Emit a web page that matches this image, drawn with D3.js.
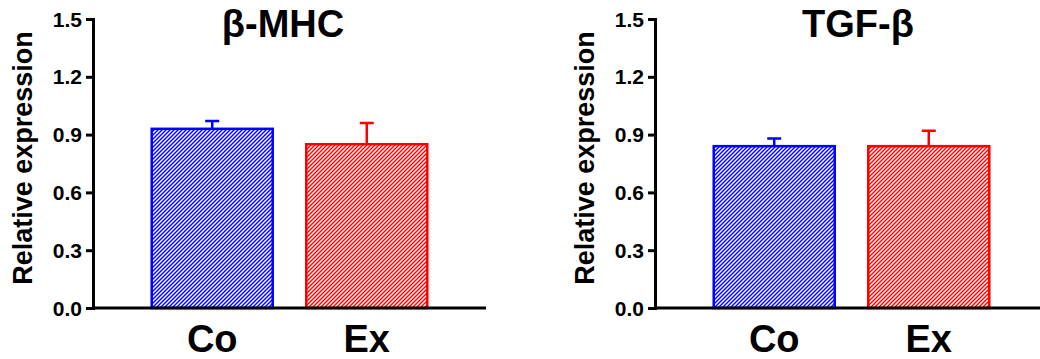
<!DOCTYPE html>
<html>
<head>
<meta charset="utf-8">
<script src="https://cdn.jsdelivr.net/npm/d3@7"></script>
<style>
body { margin: 0; background: white; }
text { font-family: "Liberation Sans", Arial, sans-serif; font-weight: bold; fill: black; }
</style>
</head>
<body>
<svg></svg>
<script>
var groups = ["Co", "Ex"];
var colors = ["#0000ff", "#ff0000"];
var yTicks = [0, 0.3, 0.6, 0.9, 1.2, 1.5];

var mhcTitle = "β-MHC";
var mhcMeans = [0.93, 0.85];
var mhcErrors = [0.04, 0.11];

var tgfTitle = "TGF-β";
var tgfMeans = [0.84, 0.84];
var tgfErrors = [0.04, 0.08];

var size = { width: 1040, height: 359 };

var svg = d3.select("svg")
            .attr("width", size.width)
            .attr("height", size.height);

// hatch patterns, one per colour
var defs = svg.append("defs");
colors.forEach(function(c, i) {
  var p = defs.append("pattern")
     .attr("id", "hatch" + i)
     .attr("patternUnits", "userSpaceOnUse")
     .attr("width", 4)
     .attr("height", 4);
  p.append("rect").attr("width", 4).attr("height", 4).attr("fill", "white");
  p.append("path")
   .attr("d", "M-1,1 l2,-2 M0,4 l4,-4 M3,5 l2,-2")
   .attr("stroke", c)
   .attr("stroke-width", 1.4);
});

var yScale = d3.scaleLinear()
               .domain([0, 1.5])
               .range([308, 19]);

var xScale = d3.scaleBand()
               .domain(groups)
               .range([93, 486])
               .paddingInner(0.217)
               .paddingOuter(0.38);

var fmt = d3.format(".1f");

var drawPanel = function(offset, title, titleX, means, errors)
{
  var g = svg.append("g")
             .attr("transform", "translate(" + offset + ",0)");

  var data = groups.map(function(d, i) {
    return { name: d, mean: means[i], err: errors[i], i: i };
  });

  // error bars (upper only)
  g.selectAll(".err")
   .data(data)
   .enter()
   .append("path")
   .attr("class", "err")
   .attr("d", function(d) {
     var cx = xScale(d.name) + xScale.bandwidth() / 2;
     return "M" + cx + "," + yScale(d.mean) + "V" + yScale(d.mean + d.err) +
            "M" + (cx - 7) + "," + yScale(d.mean + d.err) + "H" + (cx + 7);
   })
   .attr("stroke", function(d) { return colors[d.i]; })
   .attr("stroke-width", 2.5)
   .attr("fill", "none");

  g.selectAll(".bar")
   .data(data)
   .enter()
   .append("rect")
   .attr("class", "bar")
   .attr("x", function(d) { return xScale(d.name); })
   .attr("width", xScale.bandwidth())
   .attr("y", function(d) { return yScale(d.mean); })
   .attr("height", function(d) { return yScale(0) - yScale(d.mean); })
   .attr("fill", function(d) { return "url(#hatch" + d.i + ")"; })
   .attr("stroke", function(d) { return colors[d.i]; })
   .attr("stroke-width", 2.5);

  var yAxis = d3.axisLeft()
                .scale(yScale)
                .tickValues(yTicks)
                .tickFormat("")
                .tickSizeOuter(0)
                .tickSize(7);

  var ya = g.append("g")
            .attr("transform", "translate(" + 93 + ",0)")
            .call(yAxis);
  ya.select(".domain").attr("stroke", "black").attr("stroke-width", 3);
  ya.selectAll(".tick line").attr("stroke", "black").attr("stroke-width", 3);

  // tick labels
  g.selectAll(".ylab")
   .data(yTicks)
   .enter()
   .append("text")
   .attr("class", "ylab")
   .attr("x", 82)
   .attr("y", function(d) { return yScale(d); })
   .attr("dy", "0.36em")
   .attr("text-anchor", "end")
   .style("font-size", "21px")
   .text(function(d) { return fmt(d); });

  g.append("line")
   .attr("x1", 92).attr("x2", 486)
   .attr("y1", yScale(0)).attr("y2", yScale(0))
   .attr("stroke", "black")
   .attr("stroke-width", 3);

  g.selectAll(".xlab")
   .data(data)
   .enter()
   .append("text")
   .attr("class", "xlab")
   .attr("x", function(d) { return xScale(d.name) + xScale.bandwidth() / 2; })
   .attr("y", 352)
   .attr("text-anchor", "middle")
   .style("font-size", "38px")
   .text(function(d) { return d.name; });

  g.append("text")
   .attr("transform", "translate(32,158) rotate(-90)")
   .attr("text-anchor", "middle")
   .style("font-size", "27px")
   .text("Relative expression");

  g.append("text")
   .attr("x", titleX)
   .attr("y", 37)
   .attr("text-anchor", "middle")
   .style("font-size", "38px")
   .text(title);
};

drawPanel(0, mhcTitle, 283, mhcMeans, mhcErrors);
drawPanel(562, tgfTitle, 296, tgfMeans, tgfErrors);
</script>
</body>
</html>
